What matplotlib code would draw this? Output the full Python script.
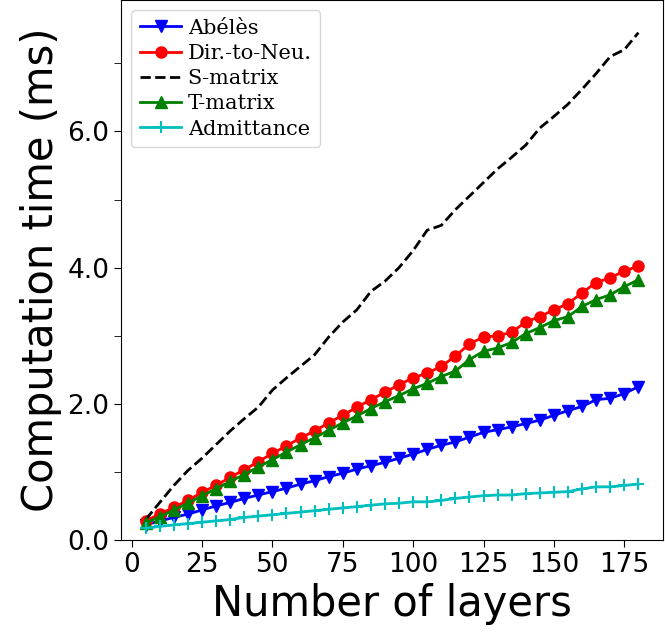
import matplotlib.pyplot as plt
from matplotlib.ticker import MultipleLocator, FormatStrFormatter

layers = list(range(5, 181, 5))

abeles = [0.22, 0.28, 0.33, 0.38, 0.44, 0.50, 0.55, 0.61, 0.66, 0.71, 0.76, 0.82, 0.87, 0.93,
          0.98, 1.04, 1.09, 1.14, 1.20, 1.26, 1.33, 1.39, 1.44, 1.51, 1.58, 1.62, 1.66, 1.71,
          1.76, 1.83, 1.90, 1.96, 2.06, 2.08, 2.15, 2.25]
dtn = [0.28, 0.38, 0.48, 0.58, 0.70, 0.80, 0.92, 1.03, 1.15, 1.27, 1.38, 1.50, 1.60, 1.72,
       1.83, 1.95, 2.06, 2.17, 2.28, 2.38, 2.45, 2.55, 2.70, 2.88, 2.98, 3.00, 3.05, 3.20,
       3.28, 3.38, 3.47, 3.63, 3.78, 3.85, 3.95, 4.02]
smatrix = [0.30, 0.55, 0.80, 1.02, 1.20, 1.40, 1.60, 1.78, 1.95, 2.20, 2.38, 2.55, 2.72, 2.98,
           3.20, 3.38, 3.65, 3.80, 4.00, 4.25, 4.55, 4.62, 4.85, 5.05, 5.25, 5.45, 5.62, 5.80,
           6.05, 6.22, 6.40, 6.62, 6.85, 7.10, 7.20, 7.45]
tmatrix = [0.25, 0.34, 0.44, 0.54, 0.65, 0.75, 0.86, 0.96, 1.07, 1.18, 1.29, 1.40, 1.50, 1.61,
           1.72, 1.82, 1.93, 2.03, 2.12, 2.22, 2.30, 2.40, 2.48, 2.65, 2.77, 2.82, 2.90, 3.03,
           3.12, 3.22, 3.28, 3.43, 3.53, 3.60, 3.72, 3.82]
admittance = [0.17, 0.20, 0.22, 0.24, 0.26, 0.28, 0.30, 0.33, 0.35, 0.37, 0.39, 0.41, 0.43, 0.45,
              0.47, 0.49, 0.51, 0.53, 0.54, 0.56, 0.56, 0.58, 0.61, 0.63, 0.65, 0.66, 0.66, 0.68,
              0.69, 0.70, 0.71, 0.75, 0.78, 0.78, 0.80, 0.82]

fig = plt.figure(figsize=(6.65, 6.33), dpi=100)
ax = fig.add_axes([0.182, 0.147, 0.815, 0.853])

ax.plot(layers, abeles, "b-v", lw=2, ms=8, label="Abélès")
ax.plot(layers, dtn, "r-o", lw=2, ms=8, label="Dir.-to-Neu.")
ax.plot(layers, smatrix, "k--", lw=2, label="S-matrix")
ax.plot(layers, tmatrix, "g-^", lw=2, ms=8, label="T-matrix")
ax.plot(layers, admittance, "c-+", lw=2, ms=8, mew=1.5, label="Admittance")

ax.set_ylim(0, 7.93)
ax.yaxis.set_major_locator(MultipleLocator(2.0))
ax.yaxis.set_minor_locator(MultipleLocator(1.0))
ax.yaxis.set_major_formatter(FormatStrFormatter("%.1f"))
ax.xaxis.set_major_locator(MultipleLocator(25))
ax.tick_params(axis="both", which="major", labelsize=19, length=5)
ax.tick_params(axis="y", which="minor", length=5)
ax.set_xlabel("Number of layers", fontsize=30)
ax.set_ylabel("Computation time (ms)", fontsize=30)
ax.legend(loc="upper left", prop={"family": "DejaVu Serif", "size": 15},
          handlelength=2.0, handletextpad=0.3, borderpad=0.4, labelspacing=0.3)

fig.savefig("out.png")
